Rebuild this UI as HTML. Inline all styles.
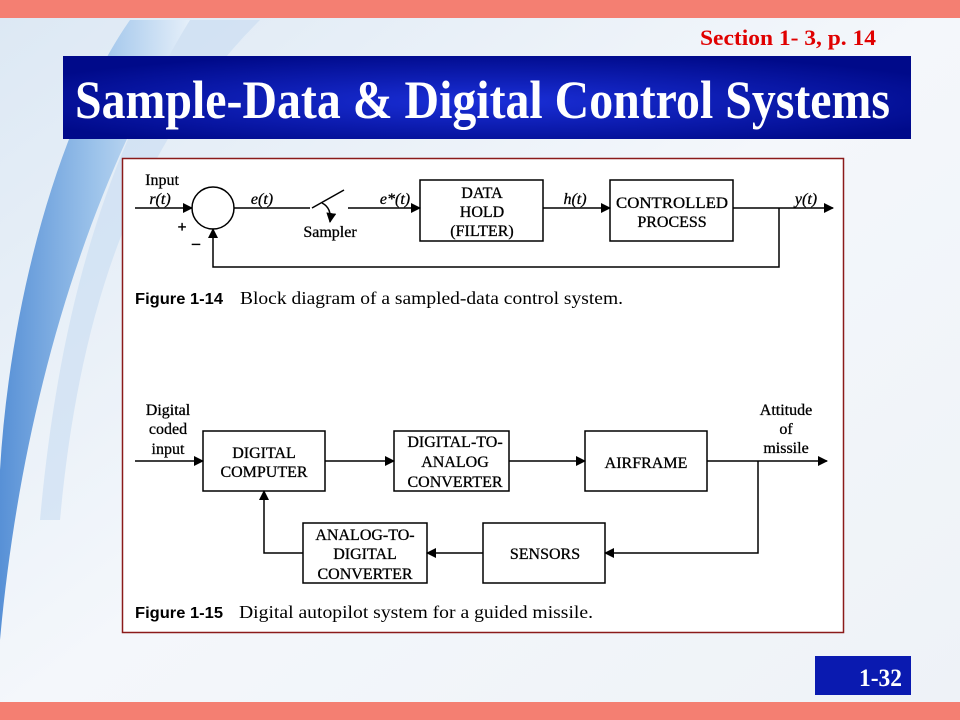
<!DOCTYPE html>
<html><head><meta charset="utf-8"><style>
html,body{margin:0;padding:0;width:960px;height:720px;overflow:hidden;background:#fff}
svg{display:block}
.t{font-family:"Liberation Serif",serif}
.b{font-family:"Liberation Sans",sans-serif}
</style></head><body>
<svg width="960" height="720" viewBox="0 0 960 720" xmlns="http://www.w3.org/2000/svg">
<defs>
<linearGradient id="sw" x1="0" y1="0" x2="1" y2="0">
<stop offset="0" stop-color="#3d7fd0"/><stop offset="0.5" stop-color="#8fbbe8"/><stop offset="1" stop-color="#e6f0fa"/>
</linearGradient>
<linearGradient id="bg" x1="0" y1="0" x2="1" y2="1">
<stop offset="0" stop-color="#dce8f4"/><stop offset="0.5" stop-color="#f4f7fb"/><stop offset="1" stop-color="#eef2f7"/>
</linearGradient>
<radialGradient id="tb" cx="0.5" cy="0.55" r="0.6">
<stop offset="0" stop-color="#1a2fd8"/><stop offset="1" stop-color="#000a8a"/>
</radialGradient>
<marker id="a" markerWidth="10" markerHeight="10" refX="9" refY="5" orient="auto" markerUnits="userSpaceOnUse">
<path d="M0,0 L10,5 L0,10 z" fill="#000"/></marker>
</defs>
<rect width="960" height="720" fill="url(#bg)"/>
<path d="M130,20 C60,120 10,300 0,470 L0,640 C20,420 80,200 190,20 z" fill="url(#sw)" opacity="0.85"/>
<path d="M190,20 C110,150 60,300 40,520 L60,520 C80,300 140,140 260,20 z" fill="#c8dcf2" opacity="0.6"/>
<rect x="0" y="0" width="960" height="18" fill="#f47f72"/>
<rect x="0" y="702" width="960" height="18" fill="#f47f72"/>
<text x="700" y="45" class="t" font-size="22" font-weight="bold" fill="#e00000" textLength="176" lengthAdjust="spacingAndGlyphs">Section 1- 3, p. 14</text>
<rect x="63" y="56" width="848" height="83" fill="url(#tb)"/>
<text x="75" y="118" class="t" font-size="54" font-weight="bold" fill="#fff" textLength="815" lengthAdjust="spacingAndGlyphs">Sample-Data &amp; Digital Control Systems</text>
<rect x="815" y="656" width="96" height="39" fill="#0a1ab0"/>
<text x="902" y="686" text-anchor="end" class="t" font-size="25" font-weight="bold" fill="#fff" textLength="43" lengthAdjust="spacingAndGlyphs">1-32</text>

<rect x="122.5" y="158.5" width="721" height="474" fill="#fff" stroke="#8b1a1a" stroke-width="1.5"/>
<g stroke="#000" stroke-width="1.5" fill="none">
<line x1="135" y1="208" x2="192" y2="208" marker-end="url(#a)"/>
<circle cx="213" cy="208" r="21"/>
<line x1="234" y1="208" x2="310" y2="208"/>
<line x1="312" y1="208" x2="344" y2="190"/>
<line x1="348" y1="208" x2="420" y2="208" marker-end="url(#a)"/>
<path d="M322,203 Q332,208 330,222" marker-end="url(#a)"/>
<rect x="420" y="180" width="123" height="61"/>
<line x1="543" y1="208" x2="610" y2="208" marker-end="url(#a)"/>
<rect x="610" y="180" width="123" height="61"/>
<line x1="733" y1="208" x2="833" y2="208" marker-end="url(#a)"/>
<polyline points="779,208 779,267 213,267 213,229" marker-end="url(#a)"/>

<line x1="135" y1="461" x2="203" y2="461" marker-end="url(#a)"/>
<rect x="203" y="431" width="122" height="60"/>
<line x1="325" y1="461" x2="394" y2="461" marker-end="url(#a)"/>
<rect x="394" y="431" width="115" height="60"/>
<line x1="509" y1="461" x2="585" y2="461" marker-end="url(#a)"/>
<rect x="585" y="431" width="122" height="60"/>
<line x1="707" y1="461" x2="827" y2="461" marker-end="url(#a)"/>
<polyline points="758,461 758,553 605,553" marker-end="url(#a)"/>
<rect x="483" y="523" width="122" height="60"/>
<line x1="483" y1="553" x2="427" y2="553" marker-end="url(#a)"/>
<rect x="303" y="523" width="124" height="60"/>
<polyline points="303,553 264,553 264,491" marker-end="url(#a)"/>
</g>
<g class="t" font-size="16" fill="#000" text-anchor="middle" stroke="#000" stroke-width="0.3">
<text x="162" y="185">Input</text>
<text x="160" y="204" font-style="italic">r(t)</text>
<text x="182" y="232" font-weight="bold">+</text>
<text x="196" y="248" font-weight="bold">–</text>
<text x="262" y="204" font-style="italic">e(t)</text>
<text x="330" y="237">Sampler</text>
<text x="395" y="204" font-style="italic">e*(t)</text>
<text x="482" y="198">DATA</text>
<text x="482" y="217">HOLD</text>
<text x="482" y="236">(FILTER)</text>
<text x="575" y="204" font-style="italic">h(t)</text>
<text x="672" y="208" textLength="112" lengthAdjust="spacingAndGlyphs">CONTROLLED</text>
<text x="672" y="227">PROCESS</text>
<text x="806" y="204" font-style="italic">y(t)</text>

<text x="168" y="415">Digital</text>
<text x="168" y="434">coded</text>
<text x="168" y="454">input</text>
<text x="264" y="458">DIGITAL</text>
<text x="264" y="477">COMPUTER</text>
<text x="455" y="447">DIGITAL-TO-</text>
<text x="455" y="467">ANALOG</text>
<text x="455" y="487">CONVERTER</text>
<text x="646" y="468">AIRFRAME</text>
<text x="786" y="415">Attitude</text>
<text x="786" y="434">of</text>
<text x="786" y="453">missile</text>
<text x="545" y="559">SENSORS</text>
<text x="365" y="540">ANALOG-TO-</text>
<text x="365" y="559">DIGITAL</text>
<text x="365" y="579">CONVERTER</text>
</g>
<g class="t" font-size="18" fill="#000">
<text x="135" y="304" class="b" font-weight="bold" font-size="16" textLength="88" lengthAdjust="spacingAndGlyphs">Figure 1-14</text>
<text x="240" y="304" textLength="383" lengthAdjust="spacingAndGlyphs">Block diagram of a sampled-data control system.</text>
<text x="135" y="618" class="b" font-weight="bold" font-size="16" textLength="88" lengthAdjust="spacingAndGlyphs">Figure 1-15</text>
<text x="239" y="618" textLength="354" lengthAdjust="spacingAndGlyphs">Digital autopilot system for a guided missile.</text>
</g>
</svg>
</body></html>
